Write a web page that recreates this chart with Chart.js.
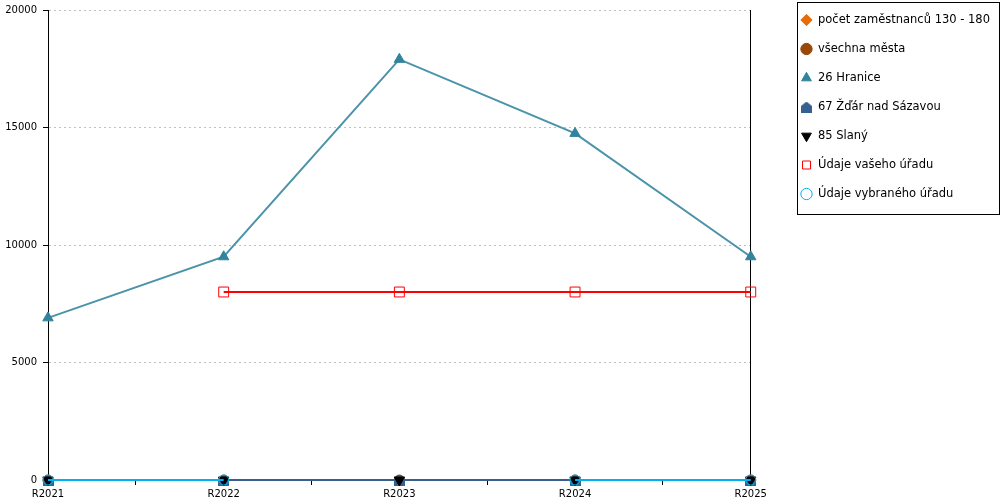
<!DOCTYPE html>
<html lang="cs">
<head>
  <meta charset="UTF-8">
  <title>Vývoj ukazatele</title>
  <script src="https://cdn.jsdelivr.net/npm/chart.js"></script>
  <style>
    html, body { margin: 0; padding: 0; background: #fff; }
    #wrap { width: 1000px; height: 500px; }
  </style>
</head>
<body>
  <div id="wrap"><canvas id="chart" width="1000" height="500"></canvas></div>

  <script>
    // data
    const years = ['R2021', 'R2022', 'R2023', 'R2024', 'R2025'];
    const pocetZam = [0, 0, 0, 0, 0];
    const vsechnaMesta = [0, 0, 0, 0, 0];
    const hranice = [6900, 9500, 17900, 14750, 9500];
    const zdar = [0, 0, 0, 0, 0];
    const slany = [0, 0, 0, 0, 0];
    const vaseUrad = [null, 8000, 8000, 8000, 8000];
    const vybranyUrad = [0, 0, null, 0, 0];
    const yTicks = [0, 5000, 10000, 15000, 20000];

    // little "house" marker for Žďár (no such built-in point style)
    function houseMarker(color) {
      const c = document.createElement('canvas');
      c.width = 11; c.height = 11;
      const g = c.getContext('2d');
      g.fillStyle = color;
      g.beginPath();
      g.moveTo(5.5, 0); g.lineTo(11, 4.5); g.lineTo(11, 11); g.lineTo(0, 11); g.lineTo(0, 4.5);
      g.closePath();
      g.fill();
      return c;
    }

    const legendBox = {
      id: 'legendBox',
      afterLayout(chart) {
        // pull the legend up a bit so the first entry sits near the top edge
        const lg = chart.legend;
        const dy = lg.top + 3.25;
        lg.top -= dy;
        lg.bottom -= dy;
      },
      afterDraw(chart) {
        const hb = chart.legend.legendHitBoxes;
        if (!hb || !hb.length) return;
        const first = hb[0], last = hb[hb.length - 1];
        const ctx = chart.ctx;
        const l = Math.round(first.left - 4) + 0.5;
        const t = Math.round(first.top - 12) + 0.5;
        const b = Math.round(last.top + last.height + 14) + 0.5;
        const r = chart.width - 0.5;
        ctx.save();
        ctx.strokeStyle = '#000';
        ctx.lineWidth = 1;
        ctx.strokeRect(l, t, r - l, b - t);
        ctx.restore();
      }
    };

    const common = { fill: false, tension: 0, borderWidth: 2, pointBorderWidth: 1, clip: false };

    new Chart(document.getElementById('chart'), {
      type: 'line',
      data: {
        labels: years,
        datasets: [
          { ...common, label: 'počet zaměstnanců 130 - 180', data: pocetZam, order: 5,
            borderColor: '#e46c0a', pointStyle: 'rectRot', pointRadius: 5,
            pointBackgroundColor: '#e46c0a', pointBorderColor: '#e46c0a' },
          { ...common, label: 'všechna města', data: vsechnaMesta, order: 4,
            borderColor: '#984807', pointStyle: 'circle', pointRadius: 5,
            pointBackgroundColor: '#984807', pointBorderColor: '#984807' },
          { ...common, label: '26 Hranice', data: hranice, order: 6,
            borderColor: '#4a93a8', pointStyle: 'triangle', pointRadius: 6,
            pointBackgroundColor: '#31849b', pointBorderColor: '#31849b' },
          { ...common, label: '67 Žďár nad Sázavou', data: zdar, order: 2,
            borderColor: '#3b5f8c', pointStyle: houseMarker('#376092'),
            pointBackgroundColor: '#376092', pointBorderColor: '#376092' },
          { ...common, label: '85 Slaný', data: slany, order: 1, showLine: false,
            borderColor: '#000000', pointStyle: 'triangle', pointRotation: 180, pointRadius: 6,
            pointBackgroundColor: '#000000', pointBorderColor: '#000000' },
          { ...common, label: 'Údaje vašeho úřadu', data: vaseUrad, order: 7,
            borderColor: '#ff0000', pointStyle: 'rect', pointRadius: 7,
            pointBackgroundColor: 'rgba(0,0,0,0)', pointBorderColor: '#ff0000' },
          { ...common, label: 'Údaje vybraného úřadu', data: vybranyUrad, order: 0,
            borderColor: '#00b0f0', pointStyle: 'circle', pointRadius: 5,
            pointBackgroundColor: 'rgba(0,0,0,0)', pointBorderColor: '#00b0f0' }
        ]
      },
      options: {
        responsive: false,
        animation: false,
        layout: { padding: { top: 10, left: 0, right: 0, bottom: 0 } },
        scales: {
          x: {
            offset: false,
            afterFit: s => { s.height = 20; },
            border: { color: '#000', width: 1 },
            grid: { offset: true, drawOnChartArea: false, tickLength: 5, tickColor: '#000' },
            ticks: { color: '#000', padding: 3, font: { family: 'DejaVu Sans', size: 10 }, maxRotation: 0, autoSkip: false }
          },
          y: {
            min: 0, max: 20000,
            afterBuildTicks: s => { s.ticks = yTicks.map(v => ({ value: v })); },
            afterFit: s => { s.width = 48; s.paddingTop = 0; s.paddingBottom = 0; },
            border: { color: '#000', width: 1, dash: [2, 3] },
            grid: { color: '#c0c0c0', tickLength: 5, tickColor: '#000', tickBorderDash: [] },
            ticks: { color: '#000', padding: 6, font: { family: 'DejaVu Sans', size: 10 },
                     callback: v => String(v) }
          },
          y2: {
            position: 'right',
            display: true,
            afterFit: s => { s.width = 32.5; s.paddingTop = 0; s.paddingBottom = 0; },
            border: { color: '#000', width: 1 },
            grid: { drawOnChartArea: false, drawTicks: false },
            ticks: { display: false }
          }
        },
        plugins: {
          tooltip: { enabled: false },
          legend: {
            position: 'right',
            align: 'start',
            maxWidth: 217.5,
            labels: {
              usePointStyle: true,
              boxHeight: 8,
              padding: 17.5,
              color: '#000',
              font: { family: 'DejaVu Sans', size: 11.5 },
              sort: (a, b) => a.datasetIndex - b.datasetIndex
            }
          }
        }
      },
      plugins: [legendBox]
    });
  </script>
</body>
</html>
